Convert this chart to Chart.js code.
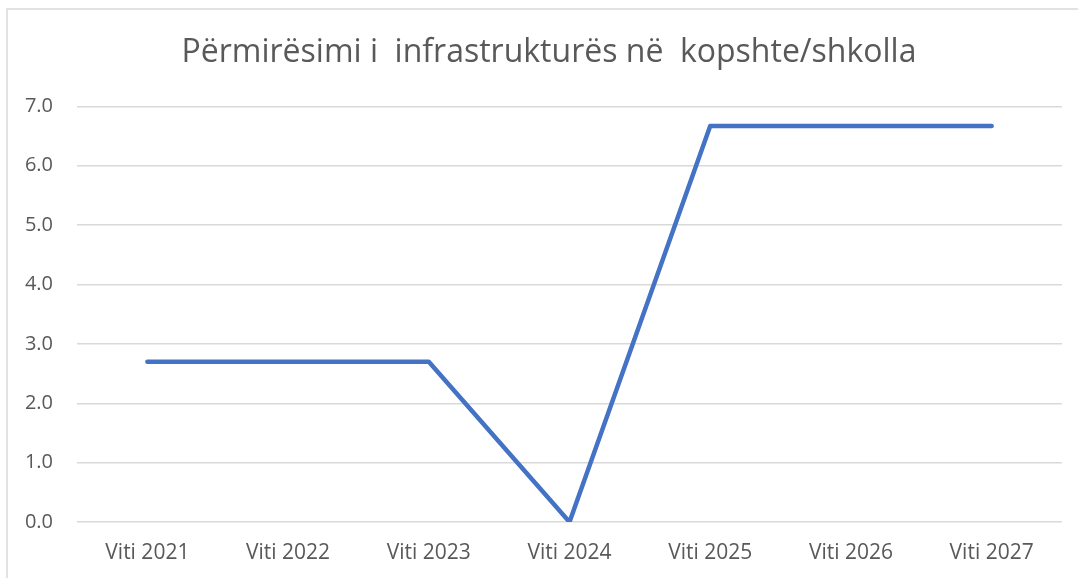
<!DOCTYPE html>
<html>
<head>
<meta charset="utf-8">
<script src="https://cdn.jsdelivr.net/npm/chart.js@4"></script>
<style>
html,body{margin:0;padding:0;background:#fff;overflow:hidden;}
#wrap{position:absolute;left:0;top:0;width:1078px;height:578px;}
</style>
</head>
<body>
<div id="wrap"><canvas id="c" width="1078" height="578"></canvas></div>
<script>
const chartTitle = "Përmirësimi i  infrastrukturës në  kopshte/shkolla";
const categories = ["Viti 2021","Viti 2022","Viti 2023","Viti 2024","Viti 2025","Viti 2026","Viti 2027"];
const seriesValues = [2.7, 2.7, 2.7, 0, 6.67, 6.67, 6.67];
const yMin = 0, yMax = 7, yStep = 1;

const FONT = "'Open Sans', Lato, sans-serif";
const TXT = "#595959";
const GRID = "#d9d9d9";

const frame = {
  id: 'frame',
  afterLayout(chart) {
    // centre the title on the full chart box (which extends past the right edge)
    if (chart.titleBlock) {
      chart.titleBlock.left = 36;
      chart.titleBlock.right = 1062;
    }
  },
  beforeDraw(chart) {
    const ctx = chart.ctx;
    ctx.save();
    ctx.strokeStyle = GRID;
    ctx.lineWidth = 1.5;
    ctx.beginPath();
    ctx.moveTo(7, 578);
    ctx.lineTo(7, 9);
    ctx.lineTo(1078, 9);
    ctx.stroke();
    ctx.restore();
  }
};

new Chart(document.getElementById('c'), {
  type: 'line',
  data: {
    labels: categories,
    datasets: [{
      data: seriesValues,
      borderColor: '#4472C4',
      borderWidth: 4.5,
      pointRadius: 0,
      pointHoverRadius: 0,
      borderCapStyle: 'round',
      borderJoinStyle: 'round',
      tension: 0,
      fill: false
    }]
  },
  options: {
    responsive: false,
    animation: false,
    events: [],
    layout: { padding: { left: 7, right: 16, top: 0, bottom: 0 } },
    plugins: {
      legend: { display: false },
      tooltip: { enabled: false },
      title: {
        display: true,
        text: chartTitle,
        color: TXT,
        font: { family: FONT, size: 32, weight: 'normal' },
        padding: { top: 34, bottom: 34 }
      }
    },
    scales: {
      x: {
        offset: true,
        grid: { display: false, drawTicks: false },
        border: { display: false },
        ticks: { color: TXT, font: { family: FONT, size: 21 }, padding: 18, maxRotation: 0, autoSkip: false },
        afterFit(s) { s.height = 56; }
      },
      y: {
        min: yMin, max: yMax,
        grid: { color: GRID, lineWidth: 1.5, drawTicks: false },
        border: { display: false },
        ticks: { stepSize: yStep, color: TXT, font: { family: FONT, size: 20 }, padding: 24,
                 callback: v => Number(v).toFixed(1) },
        afterFit(s) { s.width = 70; }
      }
    }
  },
  plugins: [frame]
});
</script>
</body>
</html>
